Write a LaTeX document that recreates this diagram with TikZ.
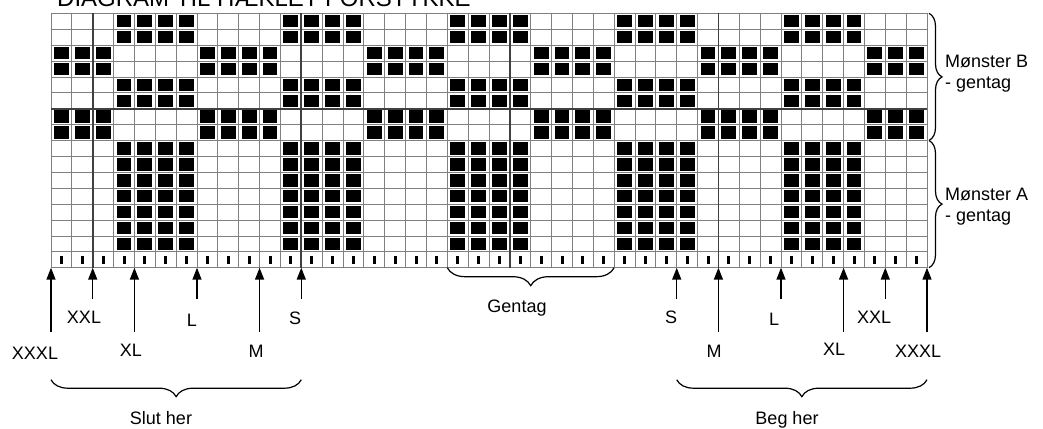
\documentclass[tikz,border=0pt]{standalone}
\usepackage{fontspec}
\setmainfont{Liberation Sans}
\usetikzlibrary{arrows.meta,calc,decorations.pathreplacing}

\newcommand{\cw}{20.857}% cell width
\newcommand{\rh}{15.9}% row height
\newcommand{\gx}{51}% grid left
\newcommand{\gy}{13.3}% grid top

\begin{document}
\begin{tikzpicture}[
			x=1pt, y=-1pt,
			font=\fontsize{18}{21}\selectfont,
			gridline/.style={draw=black!50, line width=0.8pt},
			heavyline/.style={draw=black!75, line width=1.8pt},
			stitch/.style={fill=black},
			tickmark/.style={fill=black},
			sizearr/.style={-{Triangle[width=9pt,length=12pt]}, line width=1.5pt},
			dbrace/.style={decorate, decoration={brace, mirror, amplitude=17pt}, line width=1.2pt},
			gbrace/.style={decorate, decoration={brace, mirror, amplitude=18pt}, line width=1.2pt},
			rbrace/.style={decorate, decoration={brace, amplitude=13pt}, line width=1.2pt},
			lbl/.style={anchor=base, inner sep=0pt}
			]
			\useasboundingbox (0,0) rectangle (1043,428);
			
			%% ── Title (cut at the top edge) ─────────────────────────────────────
			\node[anchor=base west, inner sep=0pt, font=\fontsize{24}{28}\selectfont]
				(title) at (57,7) {DIAGRAM TIL HÆKLET FORSTYKKE};
			
			%% ── Grid: 42 stitches x 16 rows ─────────────────────────────────────
			\foreach \c in {0,...,42}
			\draw[gridline] ({\gx+\c*\cw},\gy) -- ++(0,{16*\rh});
			\foreach \r in {0,...,16}
			\draw[gridline] (\gx,{\gy+\r*\rh}) -- ++({42*\cw},0);
			
			%% Pattern B rows 1,2,5,6 + pattern A rows 9-15
			\foreach \r in {1,2,5,6,9,10,11,12,13,14,15}
			\foreach \c in {4,5,6,7,12,13,14,15,20,21,22,23,28,29,30,31,36,37,38,39}
			\fill[stitch] ({\gx+(\c-1)*\cw+3},{\gy+(\r-1)*\rh+1.7}) rectangle ++({\cw-6},{\rh-3.4});
			
			%% Pattern B rows 3,4,7,8
			\foreach \r in {3,4,7,8}
			\foreach \c in {1,2,3,8,9,10,11,16,17,18,19,24,25,26,27,32,33,34,35,40,41,42}
			\fill[stitch] ({\gx+(\c-1)*\cw+3},{\gy+(\r-1)*\rh+1.7}) rectangle ++({\cw-6},{\rh-3.4});
			
			%% Bottom row of ticks
			\foreach \c in {1,...,42}
			\fill[tickmark] ({\gx+(\c-0.5)*\cw-1.5},{\gy+15*\rh+4.5}) rectangle ++(3,8);
			
			%% Heavy size lines
			\foreach \c in {2,12,22,32}
			\draw[heavyline] ({\gx+\c*\cw},\gy) -- ++(0,{16*\rh});
			\draw[heavyline] (\gx,{\gy+6*\rh}) -- ++({42*\cw},0);
			
			%% ── Size arrows ─────────────────────────────────────────────────────
			\foreach \c/\tl in {0/332, 2/299, 4/332, 7/299, 10/332, 12/299,
				30/299, 32/332, 35/299, 38/332, 40/299, 42/332} {
				\coordinate (b\c) at ({\gx+\c*\cw},{\gy+16*\rh});
				\coordinate (t\c) at ({\gx+\c*\cw},\tl);
				\draw[sizearr] (t\c) -- (b\c);
			}
			
			%% Slut her side
			\node[lbl] (xxxlL) at (35,359)  {XXXL};
			\node[lbl] (xxlL)  at (84,323)  {XXL};
			\node[lbl] (xlL)   at (131,356) {XL};
			\node[lbl] (lL)    at (192,326) {L};
			\node[lbl] (mL)    at (256,357) {M};
			\node[lbl] (sL)    at (295,324) {S};
			
			%% Beg her side
			\node[lbl] (sR)    at (671,323) {S};
			\node[lbl] (mR)    at (714,357) {M};
			\node[lbl] (lR)    at (774,325) {L};
			\node[lbl] (xlR)   at (834,355) {XL};
			\node[lbl] (xxlR)  at (874,323) {XXL};
			\node[lbl] (xxxlR) at (918,357) {XXXL};
			
			%% ── Braces ──────────────────────────────────────────────────────────
			\coordinate (g19) at ({\gx+19*\cw},{\gy+16*\rh});
			\coordinate (g27) at ({\gx+27*\cw},{\gy+16*\rh});
			\draw[gbrace] (g19) -- (g27);
			\node[lbl] (gentag) at (517,312) {Gentag};
			
			\draw[dbrace] ($(b0)+(0,112)$) -- ($(b12)+(0,112)$);
			\node[lbl] (slut) at (161,424) {Slut her};
			
			\draw[dbrace] ($(b30)+(0,112)$) -- ($(b42)+(0,112)$);
			\node[lbl] (beg) at (787,424) {Beg her};
			
			%% Pattern braces on the right
			\coordinate (rt) at ({\gx+42*\cw+2},\gy);
			\coordinate (rm) at ({\gx+42*\cw+2},{\gy+8*\rh});
			\coordinate (rb) at ({\gx+42*\cw+2},{\gy+16*\rh});
			\draw[rbrace] (rt) -- (rm);
			\draw[rbrace] (rm) -- (rb);
			\node[anchor=north west, align=left, inner sep=0pt] (mB) at (945,55) {Mønster B\\- gentag};
			\node[anchor=north west, align=left, inner sep=0pt] (mA) at (945,188) {Mønster A\\- gentag};
			
		\end{tikzpicture}
\end{document}
